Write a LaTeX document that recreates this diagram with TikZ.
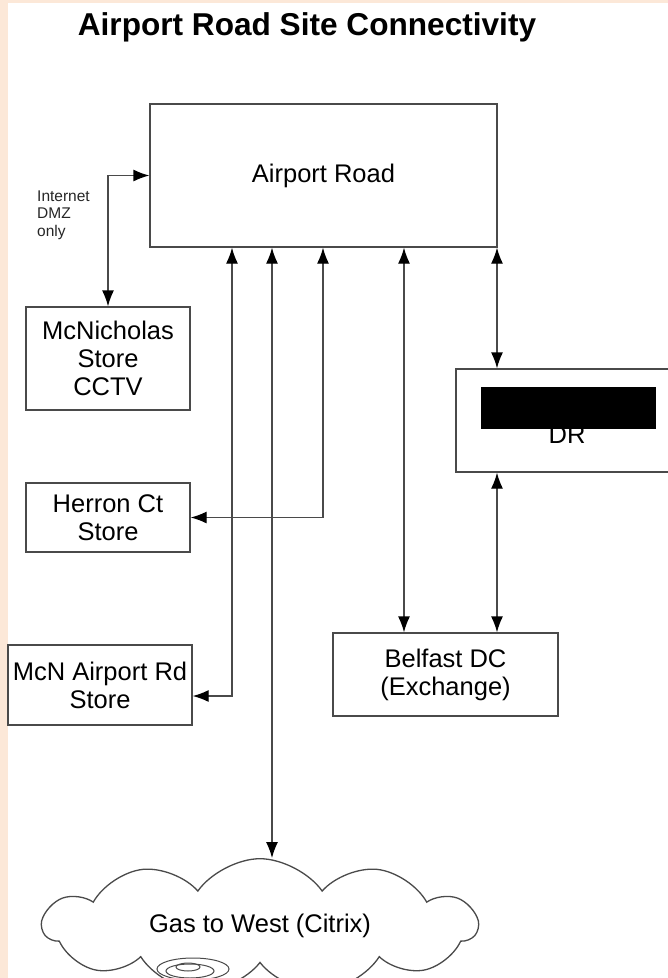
\documentclass[tikz,border=0pt]{standalone}
\usepackage{fontspec}
\setmainfont{Liberation Sans}
\usetikzlibrary{arrows.meta,shapes.symbols}
\definecolor{peach}{HTML}{FCE8D8}
\definecolor{edge}{HTML}{4A4A4A}
\tikzset{
  box/.style={draw=edge,line width=1.3pt,fill=white,align=center,inner sep=2pt,font=\fontsize{25.5}{28}\selectfont},
  lnk/.style={draw=edge,line width=1.3pt,{Latex[length=16pt,width=12pt,color=black]}-{Latex[length=16pt,width=12pt,color=black]}},
  redact/.style={fill=black,draw=none,inner sep=0pt}
}
\begin{document}
\begin{tikzpicture}[x=1pt,y=-1pt]
\useasboundingbox (0,0) rectangle (668,978);
\fill[peach] (0,0) rectangle (668,978);
\fill[white] (8,3) rectangle (668,978);
\node[font=\bfseries\fontsize{31.6}{34}\selectfont] (title) at (307,27) {Airport Road Site Connectivity};
\node[box,minimum width=347pt,minimum height=143pt] (ar) at (323.5,175.5) {Airport Road};
\node[box,minimum width=164pt,minimum height=103pt] (mcn) at (108,358.5) {McNicholas\\Store\\CCTV};
\node[box,minimum width=164pt,minimum height=69pt] (her) at (108,517.5) {Herron Ct\\Store};
\node[box,minimum width=184pt,minimum height=80pt] (mar) at (100,685) {McN Airport Rd\\Store};
\node[box,minimum width=222pt,minimum height=103pt] (dr) at (567,420.5) {\phantom{DR}\\DR};
\node[redact,minimum width=175pt,minimum height=42pt] (hide) at (568.5,408) {};
\node[box,minimum width=225pt,minimum height=83pt] (bdc) at (445.5,674.5) {Belfast DC\\(Exchange)};
\node[box,cloud,cloud puffs=11,cloud puff arc=110,aspect=3.4,minimum width=434pt,minimum height=120pt,inner sep=0pt] (gw) at (260,926) {Gas to West (Citrix)};
\draw[edge,line width=1pt] (193,969) ellipse [x radius=36, y radius=11];
\draw[edge,line width=1pt] (190,971) ellipse [x radius=24, y radius=7];
\draw[edge,line width=1pt] (188,967) ellipse [x radius=12, y radius=4];
\node[anchor=west,align=left,text=black!85,font=\fontsize{15.5}{17.5}\selectfont,inner sep=0pt] (dmz) at (37,215) {Internet\\DMZ\\only};
\coordinate (c1) at (232,696);
\coordinate (c2) at (272,0);
\coordinate (c3) at (323,0);
\coordinate (c4) at (404,0);
\coordinate (c5) at (497,0);
\draw[lnk] (ar.west) -| (mcn.north);
\draw[lnk] (c1 |- ar.south) -- (c1) -- (c1 -| mar.east);
\draw[lnk] (c2 |- ar.south) -- (c2 |- gw.north);
\draw[lnk] (c3 |- ar.south) |- (her.east);
\draw[lnk] (c4 |- ar.south) -- (c4 |- bdc.north);
\draw[lnk] (c5 |- ar.south) -- (c5 |- dr.north);
\draw[lnk] (c5 |- dr.south) -- (c5 |- bdc.north);
\end{tikzpicture}
\end{document}
